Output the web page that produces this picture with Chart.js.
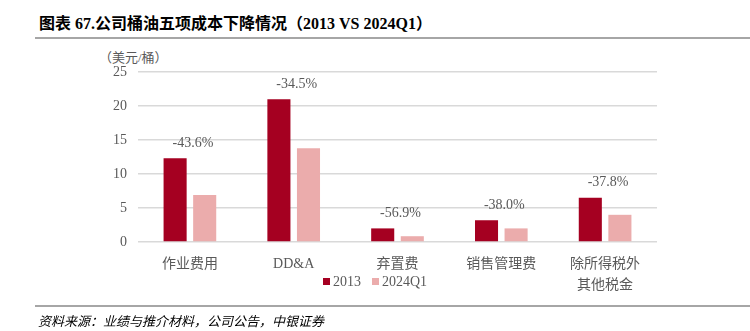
<!DOCTYPE html>
<html>
<head>
<meta charset="utf-8">
<script src="https://cdn.jsdelivr.net/npm/chart.js@4.4.1/dist/chart.umd.min.js"></script>
<style>
  body { margin: 0; background: #fff; }
  #wrap { position: relative; width: 750px; height: 331px; overflow: hidden; }
  #title {
    position: absolute; left: 39px; top: 10px;
    font: bold 16px "Liberation Serif", "Noto Sans CJK SC"; color: #000; white-space: nowrap;
  }
  .rule { position: absolute; left: 35px; right: 0; height: 2px; background: #a6a6a6; }
  #unit {
    position: absolute; left: 99px; top: 47px;
    font: 13px "Liberation Serif", "Noto Sans CJK SC"; color: #595959;
  }
  #legend {
    position: absolute; left: 323px; top: 274px;
    font: 14px "Liberation Serif"; color: #595959; white-space: nowrap;
  }
  #legend span.box { display: inline-block; width: 7px; height: 7px; margin-right: 3px; vertical-align: 1px; }
  #legend span.item { margin-right: 11px; }
  #source {
    position: absolute; left: 38px; top: 311px;
    font: italic 13px "Noto Sans CJK SC"; color: #000; white-space: nowrap;
  }
  canvas { position: absolute; left: 0; top: 0; }
</style>
</head>
<body>
<div id="wrap">
  <div id="title">图表 67.公司桶油五项成本下降情况（2013 VS 2024Q1）</div>
  <div class="rule" style="top:37px"></div>
  <div id="unit">（美元/桶）</div>
  <canvas id="myChart" width="750" height="331"></canvas>
  <div id="legend"></div>
  <div class="rule" style="top:305px"></div>
  <div id="source">资料来源：业绩与推介材料，公司公告，中银证券</div>
</div>
<script>
const categories = ["作业费用", "DD&A", "弃置费", "销售管理费", ["除所得税外", "其他税金"]];
const values2013 = [12.3, 21.0, 2.0, 3.2, 6.5];
const values2024Q1 = [6.9, 13.8, 0.85, 2.0, 4.0];
const changeLabels = ["-43.6%", "-34.5%", "-56.9%", "-38.0%", "-37.8%"];
const yTicks = [0, 5, 10, 15, 20, 25];

const seriesNames = ["2013", "2024Q1"];
const seriesColors = ["#a50021", "#ebacac"];

// legend in html, same order as the datasets
document.getElementById("legend").innerHTML = seriesNames
  .map((n, i) => `<span class="item"><span class="box" style="background:${seriesColors[i]}"></span>${n}</span>`)
  .join("");

const textGray = "#595959";

// percentage labels centred above each group
const changeLabelPlugin = {
  id: "changeLabels",
  afterDatasetsDraw(chart) {
    const { ctx, scales } = chart;
    ctx.save();
    ctx.font = '14px "Liberation Serif"';
    ctx.fillStyle = textGray;
    ctx.textAlign = "center";
    ctx.textBaseline = "middle";
    changeLabels.forEach((txt, i) => {
      const top = Math.max(values2013[i], values2024Q1[i]);
      const x = scales.x.getPixelForValue(i) + 3;
      const y = scales.y.getPixelForValue(top) - 15;
      ctx.fillText(txt, x, y);
    });
    ctx.restore();
  },
};

const ctx = document.getElementById("myChart").getContext("2d");
new Chart(ctx, {
  type: "bar",
  data: {
    labels: categories,
    datasets: [
      { label: seriesNames[0], data: values2013, backgroundColor: seriesColors[0] },
      { label: seriesNames[1], data: values2024Q1, backgroundColor: seriesColors[1] },
    ],
  },
  options: {
    responsive: false,
    animation: false,
    layout: { padding: { top: 72, right: 93, left: 0, bottom: 0 } },
    datasets: { bar: { categoryPercentage: 0.57, barPercentage: 0.78 } },
    plugins: {
      legend: { display: false },
      tooltip: { enabled: false },
    },
    scales: {
      y: {
        min: 0,
        max: 25,
        afterBuildTicks: (scale) => { scale.ticks = yTicks.map((v) => ({ value: v })); },
        afterFit: (scale) => { scale.width = 138; },
        border: { display: false },
        grid: { color: "#d9d9d9", lineWidth: 1.5, drawTicks: false },
        ticks: {
          padding: 11,
          color: textGray,
          font: { family: "Liberation Serif", size: 14 },
        },
      },
      x: {
        afterFit: (scale) => { scale.height = 89; },
        border: { display: false },
        grid: { display: false },
        ticks: {
          padding: 4,
          color: textGray,
          maxRotation: 0,
          autoSkip: false,
          font: { family: '"Liberation Serif", "Noto Sans CJK SC"', size: 14, lineHeight: 1.5 },
        },
      },
    },
  },
  plugins: [changeLabelPlugin],
});
</script>
</body>
</html>
